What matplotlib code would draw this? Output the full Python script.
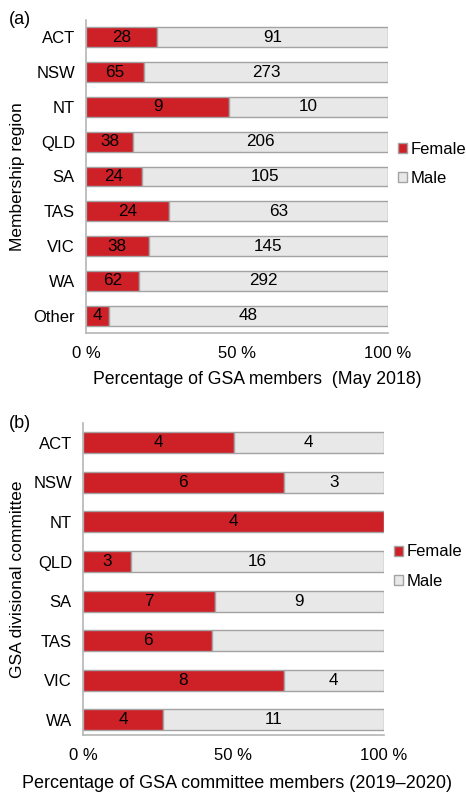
import numpy as np
import matplotlib.pyplot as plt
from matplotlib.patches import Patch

plt.rcParams['font.family'] = ['Liberation Sans', 'DejaVu Sans']

# panel (a): membership by region, May 2018
regions_a = ['ACT', 'NSW', 'NT', 'QLD', 'SA', 'TAS', 'VIC', 'WA', 'Other']
female_a = [28, 65, 9, 38, 24, 24, 38, 62, 4]
male_a = [91, 273, 10, 206, 105, 63, 145, 292, 48]

# panel (b): divisional committees 2019-2020
regions_b = ['ACT', 'NSW', 'NT', 'QLD', 'SA', 'TAS', 'VIC', 'WA']
female_b = [4, 6, 4, 3, 7, 6, 8, 4]
male_b = [4, 3, 0, 16, 9, 8, 4, 11]
# labels shown on the bars (None = not shown)
male_b_labels = ['4', '3', None, '16', '9', None, '4', '11']

RED = '#CD2027'
GREY = '#E8E8E8'
EDGE = '#A3A3A3'


def panel(ax, cats, fem, mal, mal_labels, bar_h, ybot, xlabel, xlab_pos, xlab_size, ylabel, leg_y):
    fem = np.array(fem, float)
    mal = np.array(mal, float)
    tot = fem + mal
    fp = fem / tot * 100
    mp = mal / tot * 100
    y = np.arange(len(cats))
    ax.barh(y, fp, height=bar_h, color=RED, edgecolor=EDGE, linewidth=1.0)
    ax.barh(y, mp, left=fp, height=bar_h, color=GREY, edgecolor=EDGE, linewidth=1.0)
    for i in range(len(cats)):
        ax.text(fp[i] / 2, y[i], str(int(fem[i])), ha='center', va='center', fontsize=12.3)
        lab = mal_labels[i]
        if lab is not None and mp[i] > 0:
            ax.text(fp[i] + mp[i] / 2, y[i], lab, ha='center', va='center', fontsize=12.3)
    ax.set_ylim(ybot, -0.5)
    ax.set_xlim(0, 100)
    ax.set_yticks(y)
    ax.set_yticklabels(cats, fontsize=12)
    ax.set_xticks([0, 50, 100])
    ax.set_xticklabels(['0 %', '50 %', '100 %'], fontsize=12)
    ax.tick_params(axis='both', length=0)
    ax.tick_params(axis='x', pad=9.5)
    ax.tick_params(axis='y', pad=8)
    for s in ['top', 'right']:
        ax.spines[s].set_visible(False)
    for s in ['left', 'bottom']:
        ax.spines[s].set_color('#B5B5B5')
        ax.spines[s].set_linewidth(1.2)
    ax.set_xlabel(xlabel, fontsize=xlab_size, va='center')
    ax.xaxis.set_label_coords(*xlab_pos)
    ax.set_ylabel(ylabel, fontsize=12.5, labelpad=6)
    handles = [Patch(facecolor=RED, edgecolor=EDGE, label='Female'),
               Patch(facecolor=GREY, edgecolor=EDGE, label='Male')]
    ax.legend(handles=handles, loc='center left', bbox_to_anchor=(1.005, leg_y),
              frameon=False, fontsize=12, handlelength=0.55, handleheight=0.55,
              handletextpad=0.2, labelspacing=0.85, borderpad=0)
    return ax


fig = plt.figure(figsize=(4.66, 7.95), dpi=100)
ax1 = fig.add_axes([86 / 466, 1 - 333 / 795, 302 / 466, 313 / 795])
ax2 = fig.add_axes([83 / 466, 1 - 735 / 795, 301 / 466, 312 / 795])

panel(ax1, regions_a, female_a, male_a, [str(m) for m in male_a], 0.57, 8.5,
      'Percentage of GSA members  (May 2018)', (0.566, -47 / 313), 12.7,
      'Membership region', 0.54)
panel(ax2, regions_b, female_b, male_b, male_b_labels, 0.53, 7.38,
      'Percentage of GSA committee members (2019\u20132020)', (0.513, -48 / 312), 13.0,
      'GSA divisional committee', 0.54)

fig.text(9 / 466, 1 - 20 / 795, '(a)', fontsize=13, va='center', ha='left')
fig.text(9 / 466, 1 - 423 / 795, '(b)', fontsize=13, va='center', ha='left')

fig.savefig('out.png', dpi=100)
